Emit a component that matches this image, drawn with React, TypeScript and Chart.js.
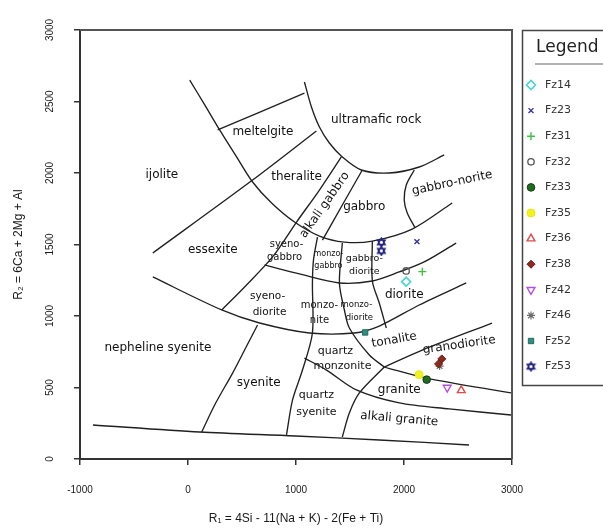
import React, { useEffect, useRef } from 'react';
import { Chart, registerables } from 'chart.js';
import { drawPoint } from 'chart.js/helpers';

Chart.register(...registerables);

// ---------- axis ----------
const xMin = -1000;
const xMax = 3000;
const xStep = 1000;
const yMin = 0;
const yMax = 3000;
const yStep = 500;
const xTitle = 'R\u2081 = 4Si - 11(Na + K) - 2(Fe + Ti)';
const yTitle = 'R\u2082 = 6Ca + 2Mg + Al';

// ---------- samples [R1, R2] ----------
const fz14 = [[2020, 1240]];
const fz23 = [[2120, 1520]];
const fz31 = [[2170, 1310]];
const fz32 = [[2020, 1315]];
const fz33 = [[2210, 555]];
const fz35 = [[2140, 590]];
const fz36 = [[2530, 480]];
const fz38 = [[2350, 700], [2320, 665]];
const fz42 = [[2400, 500]];
const fz46 = [[2330, 650]];
const fz52 = [[1640, 885]];
const fz53 = [[1790, 1515], [1790, 1455]];

const sampleNames = ['Fz14', 'Fz23', 'Fz31', 'Fz32', 'Fz33', 'Fz35', 'Fz36', 'Fz38', 'Fz42', 'Fz46', 'Fz52', 'Fz53'];
const sampleData = [fz14, fz23, fz31, fz32, fz33, fz35, fz36, fz38, fz42, fz46, fz52, fz53];

// ---------- field boundaries [R1, R2] ----------
const meltTop = [[275, 2301], [1078, 2559]];
const ultramaficBase = [[1078, 2636], [1143, 2462], [1217, 2322], [1309, 2210], [1429, 2112], [1605, 2021], [1864, 2000], [2141, 2042], [2372, 2126]];
const gabbroBase = [[16, 2650], [155, 2476], [293, 2301], [450, 2112], [598, 1937], [774, 1790], [986, 1657], [1217, 1559], [1448, 1517], [1707, 1524], [2076, 1608], [2446, 1790]];
const ijoliteLine = [[-326, 1441], [598, 1951], [1189, 2294]];
const essexiteRight = [[312, 1042], [524, 1203], [783, 1413], [1005, 1657], [1217, 1881], [1420, 2112]];
const alkaliGabbroRight = [[1245, 1531], [1429, 1776], [1614, 2021]];
const gabbroNoriteLeft = [[2095, 2021], [2021, 1916], [2002, 1811], [2030, 1720], [2104, 1615]];
const dioriteTop = [[709, 1357], [1032, 1294], [1402, 1231], [1707, 1245], [1956, 1308], [2187, 1378], [2483, 1510]];
const quartzLine = [[-326, 1273], [312, 1042], [663, 951], [1125, 881], [1540, 881], [1771, 930], [2141, 1077], [2576, 1231]];
const syenoMonzoLine = [[1199, 1552], [1162, 1392], [1152, 1231], [1152, 881], [1060, 622], [968, 413], [912, 168]];
const monzoGabbroLine = [[1429, 1510], [1402, 1231], [1448, 1042], [1494, 916], [1679, 727], [1817, 643]];
const gabbroDioriteLine = [[1707, 1524], [1707, 1245], [1771, 1091], [1836, 916]];
const tonaliteBase = [[1817, 643], [2169, 762], [2815, 951]];
const graniteTop = [[1817, 643], [2206, 566], [2991, 462]];
const alkaliGraniteLeft = [[1817, 643], [1587, 462], [1494, 322], [1429, 154]];
const alkaliGraniteTop = [[1078, 706], [1282, 622], [1559, 483], [1956, 392], [2418, 350], [2991, 308]];
const syeniteLeft = [[644, 937], [524, 762], [413, 601], [247, 378], [127, 189]];
const baseLine = [[-880, 238], [108, 189], [995, 161], [1771, 133], [2602, 98]];

const boundaries = [
  meltTop, ultramaficBase, gabbroBase, ijoliteLine, essexiteRight, alkaliGabbroRight,
  gabbroNoriteLeft, dioriteTop, quartzLine, syenoMonzoLine, monzoGabbroLine, gabbroDioriteLine,
  tonaliteBase, graniteTop, alkaliGraniteLeft, alkaliGraniteTop, syeniteLeft, baseLine,
];

// ---------- field names ----------
const fieldNames = [
  'meltelgite', 'ultramafic rock', 'ijolite', 'theralite', 'alkali gabbro', 'gabbro', 'gabbro-norite',
  'syeno-', 'gabbro', 'monzo-', 'gabbro', 'gabbro-', 'diorite', 'diorite', 'syeno-', 'diorite',
  'monzo-', 'nite', 'monzo-', 'diorite', 'tonalite', 'granodiorite', 'quartz', 'monzonite', 'granite',
  'quartz', 'syenite', 'alkali granite', 'syenite', 'nepheline syenite', 'essexite',
];
const fieldR1 = [
  693, 1743, -242, 1005, 1265, 1632, 2446,
  912, 894, 1300, 1300, 1633, 1633, 2002, 737, 755,
  1217, 1217, 1559, 1587, 1910, 2511, 1365, 1430, 1956,
  1189, 1189, 1956, 655, -279, 229,
];
const fieldR2 = [
  2287, 2371, 1986, 1972, 1776, 1762, 1930,
  1503, 1413, 1434, 1350, 1399, 1308, 1147, 1140, 1028,
  1077, 972, 1077, 986, 832, 797, 755, 650, 483,
  448, 329, 280, 531, 776, 1462,
];

// styles per field label (angle in degrees, font size in px)
const FIELD_ANGLE: Record<number, number> = { 4: -55, 6: -12, 20: -10, 21: -8, 27: 5 };
const FIELD_SIZE: Record<number, number> = { 7: 10, 8: 10, 9: 8, 10: 8, 11: 9.5, 12: 9.5, 14: 10.5, 15: 10.5, 16: 10, 17: 10, 18: 8.5, 19: 8.5, 22: 11, 23: 11, 25: 11, 26: 11 };

function makeStarOfDavid(color: string) {
  const c = document.createElement('canvas');
  c.width = 11;
  c.height = 11;
  const g = c.getContext('2d')!;
  g.strokeStyle = color;
  g.lineWidth = 1.4;
  const cx = 5.5, cy = 5.5, r = 4.4;
  for (const rot of [0, Math.PI]) {
    g.beginPath();
    for (let k = 0; k < 3; k++) {
      const a = rot - Math.PI / 2 + (k * 2 * Math.PI) / 3;
      const px = cx + r * Math.cos(a);
      const py = cy + r * Math.sin(a);
      if (k === 0) g.moveTo(px, py); else g.lineTo(px, py);
    }
    g.closePath();
    g.stroke();
  }
  return c;
}

export default function App() {
  const ref = useRef<HTMLCanvasElement>(null);

  useEffect(() => {
    const canvas = ref.current!;
    const styles: any[] = [
      { pointStyle: 'rectRot', bg: 'rgba(0,0,0,0)', border: '#45d6d2', r: 4.5, w: 1.6 },
      { pointStyle: 'crossRot', bg: 'rgba(0,0,0,0)', border: '#35359a', r: 3.5, w: 1.4 },
      { pointStyle: 'cross', bg: 'rgba(0,0,0,0)', border: '#3fc23f', r: 4, w: 1.4 },
      { pointStyle: 'circle', bg: 'rgba(0,0,0,0)', border: '#555555', r: 3.2, w: 1.3 },
      { pointStyle: 'circle', bg: '#1f6b1f', border: '#163f16', r: 3.8, w: 1 },
      { pointStyle: 'circle', bg: '#f2f21e', border: '#e6e61a', r: 4, w: 1 },
      { pointStyle: 'triangle', bg: 'rgba(0,0,0,0)', border: '#e04848', r: 4.5, w: 1.4 },
      { pointStyle: 'rectRot', bg: '#8b2a1e', border: '#6a1a12', r: 4, w: 1 },
      { pointStyle: 'triangle', bg: 'rgba(0,0,0,0)', border: '#b04ee0', r: 4.5, w: 1.4, rot: 180 },
      { pointStyle: 'star', bg: 'rgba(0,0,0,0)', border: '#6b6b6b', r: 4, w: 1.2 },
      { pointStyle: 'rect', bg: '#2f8f80', border: '#1f6a5f', r: 3.8, w: 1 },
      { pointStyle: makeStarOfDavid('#22227e'), bg: '#22227e', border: '#22227e', r: 5, w: 1 },
    ];

    const sampleSets = sampleNames.map((name, i) => ({
      label: name,
      data: sampleData[i].map(([x, y]) => ({ x, y })),
      pointStyle: styles[i].pointStyle,
      pointRadius: styles[i].r,
      pointRotation: styles[i].rot || 0,
      pointBackgroundColor: styles[i].bg,
      pointBorderColor: styles[i].border,
      pointBorderWidth: styles[i].w,
      showLine: false,
      order: 0,
    }));

    const lineSets = boundaries.map((pts, i) => ({
      label: 'boundary' + i,
      data: pts.map(([x, y]) => ({ x, y })),
      showLine: true,
      borderColor: '#202020',
      borderWidth: 1.35,
      pointRadius: 0,
      tension: 0.3,
      fill: false,
      order: 10,
    }));

    const overlay = {
      id: 'overlay',
      beforeDatasetsDraw(chart: any) {
        const { ctx, scales } = chart;
        ctx.save();
        ctx.fillStyle = '#111';
        ctx.textAlign = 'center';
        ctx.textBaseline = 'middle';
        fieldNames.forEach((name, i) => {
          const px = scales.x.getPixelForValue(fieldR1[i]);
          const py = scales.y.getPixelForValue(fieldR2[i]);
          const size = FIELD_SIZE[i] || 12;
          const ang = FIELD_ANGLE[i] || 0;
          ctx.save();
          ctx.translate(px, py);
          ctx.rotate((ang * Math.PI) / 180);
          ctx.font = `${size}px "DejaVu Sans"`;
          ctx.fillText(name, 0, 0);
          ctx.restore();
        });
        ctx.restore();
      },
      afterDraw(chart: any) {
        const { ctx, chartArea } = chart;
        ctx.save();
        // top & right of the frame
        ctx.strokeStyle = '#555';
        ctx.lineWidth = 2;
        ctx.beginPath();
        ctx.moveTo(chartArea.left, chartArea.top);
        ctx.lineTo(chartArea.right, chartArea.top);
        ctx.lineTo(chartArea.right, chartArea.bottom);
        ctx.stroke();

        // legend box
        const lx = chartArea.right + 10;
        const ly = chartArea.top;
        ctx.strokeStyle = '#444';
        ctx.lineWidth = 1.5;
        ctx.strokeRect(lx + 0.5, ly + 0.5, 120, 355);
        ctx.fillStyle = '#222';
        ctx.textAlign = 'left';
        ctx.textBaseline = 'middle';
        ctx.font = '17px "DejaVu Sans"';
        ctx.fillText('Legend', lx + 14, ly + 18);
        ctx.strokeStyle = '#666';
        ctx.lineWidth = 1.2;
        ctx.beginPath();
        ctx.moveTo(lx + 13, ly + 34);
        ctx.lineTo(lx + 100, ly + 34);
        ctx.stroke();
        ctx.font = '11px "DejaVu Sans"';
        sampleSets.forEach((ds, i) => {
          const yy = ly + 55 + i * 25.6;
          ctx.save();
          ctx.fillStyle = ds.pointBackgroundColor;
          ctx.strokeStyle = ds.pointBorderColor;
          ctx.lineWidth = ds.pointBorderWidth;
          drawPoint(ctx, { pointStyle: ds.pointStyle, radius: ds.pointRadius, rotation: ds.pointRotation, borderWidth: ds.pointBorderWidth }, lx + 9, yy);
          ctx.restore();
          ctx.fillStyle = '#333';
          ctx.fillText(ds.label, lx + 23, yy);
        });
        ctx.restore();
      },
    };

    const tickFont = { family: '"Liberation Sans", "DejaVu Sans"', size: 10 };
    const plainTick = (v: any) => String(v);

    const chart = new Chart(canvas, {
      type: 'scatter',
      data: { datasets: [...sampleSets, ...lineSets] as any },
      options: {
        animation: false,
        responsive: false,
        devicePixelRatio: 1,
        layout: { padding: { top: 30, right: 91, left: 0, bottom: 0 } },
        plugins: { legend: { display: false }, tooltip: { enabled: false } },
        scales: {
          x: {
            type: 'linear',
            min: xMin,
            max: xMax,
            afterFit: (s: any) => { s.height = 73; },
            ticks: { stepSize: xStep, padding: 19, color: '#1a1a1a', font: tickFont, callback: plainTick },
            grid: { drawOnChartArea: false, drawTicks: true, tickLength: 6, color: '#333', lineWidth: 1.5 },
            border: { display: true, color: '#333', width: 2 },
            title: { display: true, text: xTitle, color: '#1a1a1a', font: { family: '"Liberation Sans", "DejaVu Sans"', size: 12 }, padding: { top: 0, bottom: 6 } },
          },
          y: {
            type: 'linear',
            min: yMin,
            max: yMax,
            afterFit: (s: any) => { s.width = 80; },
            ticks: { stepSize: yStep, padding: 13, minRotation: 90, maxRotation: 90, crossAlign: 'center', color: '#1a1a1a', font: tickFont, callback: plainTick },
            grid: { drawOnChartArea: false, drawTicks: true, tickLength: 6, color: '#333', lineWidth: 1.5 },
            border: { display: true, color: '#333', width: 2 },
            title: { display: true, text: yTitle, color: '#1a1a1a', font: { family: '"Liberation Sans", "DejaVu Sans"', size: 12 }, padding: { top: 11, bottom: 0 } },
          },
        },
      } as any,
      plugins: [overlay],
    });
    return () => chart.destroy();
  }, []);

  return (
    <div style={{ position: 'absolute', left: 0, top: 0, width: 603, height: 532, background: '#fff' }}>
      <canvas ref={ref} width={603} height={532} style={{ display: 'block' }} />
    </div>
  );
}
